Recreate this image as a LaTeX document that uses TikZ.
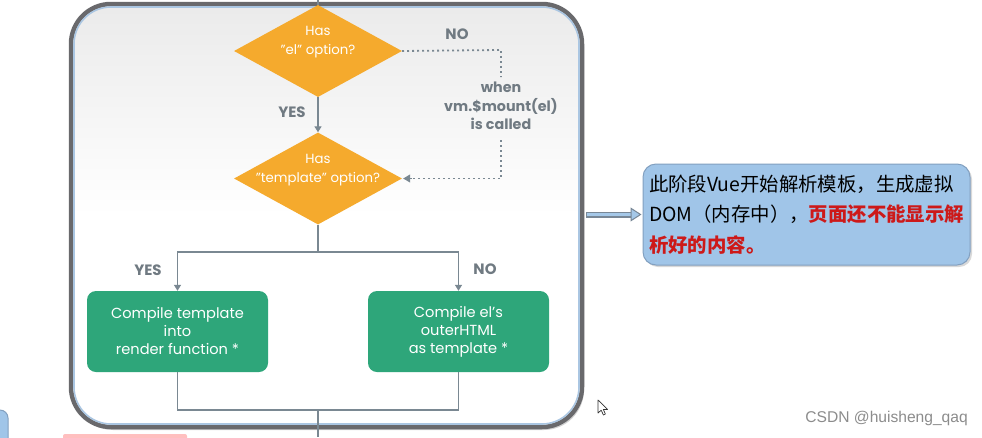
\documentclass[tikz,border=0pt]{standalone}
\usepackage{fontspec}
\setmainfont{Poppins}
\newfontfamily\cjk{Noto Sans CJK SC}
\newfontfamily\wmfont{Liberation Sans}
\usetikzlibrary{shapes.geometric,arrows.meta,shadows}
\definecolor{dorange}{RGB}{245,170,45}
\definecolor{bgreen}{RGB}{46,166,122}
\definecolor{lgray}{RGB}{122,136,146}
\definecolor{tgray}{RGB}{112,122,130}
\definecolor{framegray}{RGB}{105,105,108}
\definecolor{frameblue}{RGB}{170,198,226}
\definecolor{noteblue}{RGB}{160,197,232}
\definecolor{noteedge}{RGB}{130,160,192}
\definecolor{arrowblue}{RGB}{165,200,232}
\definecolor{arrowgray}{RGB}{120,135,150}
\definecolor{notered}{RGB}{205,25,25}
\tikzset{
  decision/.style={diamond, fill=dorange, minimum width=168pt, minimum height=92pt, inner sep=0pt},
  dtext/.style={text=white, font=\fontsize{13.3}{19}\selectfont, align=center, inner sep=0pt},
  stepbox/.style={rectangle, rounded corners=9pt, fill=bgreen, text=white, minimum width=181pt, minimum height=81pt, align=center, font=\fontsize{14.6}{18}\selectfont, inner sep=0pt},
  conn/.style={draw=lgray, line width=1.3pt},
  tip/.style={-{Triangle[length=6pt,width=7pt]}},
  dots/.style={draw=lgray, line width=1.8pt, dash pattern=on 1.8pt off 3.2pt},
  yn/.style={text=tgray, font=\bfseries\fontsize{15}{17}\selectfont, inner sep=0pt},
}
\begin{document}
\begin{tikzpicture}[x=1pt,y=-1pt]
\useasboundingbox (0,0) rectangle (982,437);
\fill[white] (0,0) rectangle (982,437);
% fragments at the bottom left
\draw[fill=noteblue, draw=noteedge, line width=1pt, rounded corners=8pt] (-40,410) rectangle (8,470);
\fill[red!25, rounded corners=2pt] (63,434) rectangle (187,445);
% frame
\node[rectangle, rounded corners=40pt, minimum width=511pt, minimum height=423pt, inner sep=0pt,
      draw=framegray, line width=4.5pt, top color=black!8, bottom color=white, middle color=white,
      drop shadow={shadow xshift=2pt, shadow yshift=-3pt, opacity=0.35}] (frame) at (326.5,215.5) {};
\draw[frameblue, line width=1.6pt, rounded corners=37pt] (74,7) rectangle (579,424);
% decisions
\node[decision] (d1) at (318,51) {};
\node[dtext] (d1t) at (318,42.5) {Has\\"el" option?};
\node[decision] (d2) at (318,178.5) {};
\node[dtext] (d2t) at (318,170.5) {Has\\"template" option?};
% boxes
\node[stepbox] (b1) at (177.5,331.5) {Compile template\\into\\render function *};
\node[stepbox] (b2) at (458.5,331.5) {Compile el's\\outerHTML\\as template *};
% coordinates
\coordinate (top) at (318,0);
\coordinate (dA) at (501,50);
\coordinate (dB) at (501,77);
\coordinate (dC) at (501,140);
\coordinate (dD) at (501,178.5);
\coordinate (split) at (318,252);
\coordinate (merge) at (318,410);
\coordinate (bottom) at (318,437);
% connectors
\draw[conn] (top) -- (d1.north);
\draw[conn,tip] (d1.south) -- (d2.north);
\draw[dots] (d1.east) -- (dA) -- (dB);
\draw[dots] (dC) -- (dD) -- ([xshift=9pt]d2.east);
\draw[lgray, line width=1pt, -{Triangle[length=7pt,width=8pt]}] ([xshift=9.5pt]d2.east) -- ([xshift=1pt]d2.east);
\draw[conn] (d2.south) -- (split);
\draw[conn,tip] (split) -| (b1.north);
\draw[conn,tip] (split) -| (b2.north);
\draw[conn] (b1.south) -- (b1.south |- merge) -- (b2.south |- merge) -- (b2.south);
\draw[conn] (merge) -- (bottom);
% labels
\node[yn] (yes1) at (292,112) {YES};
\node[yn] (no1) at (457,34) {NO};
\node[yn] (yes2) at (148,270) {YES};
\node[yn] (no2) at (485,269) {NO};
\node[text=tgray, font=\bfseries\fontsize{14.3}{18.5}\selectfont, align=center, inner sep=0pt] (when) at (501,106) {when\\vm.\$mount(el)\\is called};
% note
\node[rectangle, rounded corners=13pt, fill=noteblue, draw=noteedge, line width=1pt,
      minimum width=327pt, minimum height=101pt, text width=315pt, inner xsep=6pt, align=left,
      font=\cjk\fontsize{19.4}{30.5}\selectfont,
      drop shadow={shadow xshift=2pt, shadow yshift=-2pt, opacity=0.3}] (note) at (806.5,214.5)
  {\raisebox{-2pt}{此阶段Vue开始解析模板，生成虚拟}\\\raisebox{-2pt}{DOM（内存中），{\color{notered}\bfseries 页面还不能显示解}}\\\raisebox{-2pt}{\color{notered}\bfseries 析好的内容。}};
% callout arrow
\coordinate (aS) at (frame.east |- note.west);
\draw[arrowgray, line width=6pt, shorten >=9pt] ([xshift=2pt]aS) -- (note.west);
\draw[arrowblue, line width=3.6pt, shorten >=9pt] ([xshift=3pt]aS) -- (note.west);
\draw[arrowgray, line width=1pt, -{Triangle[length=11pt,width=14pt,fill=arrowblue]}] ([xshift=-10pt]note.west) -- ([xshift=-1pt]note.west);
% cursor
\filldraw[fill=white, draw=black!80, line width=0.7pt, line join=round] (598,400) -- (598,413) -- (601.2,410.2) -- (603.4,415) -- (605.4,414) -- (603.3,409.4) -- (607.5,409.4) -- cycle;
% watermark
\node[text=black!45, font=\wmfont\fontsize{15.6}{17}\selectfont, inner sep=0pt, anchor=east] (wm) at (968,418) {CSDN @huisheng\_qaq};
\end{tikzpicture}
\end{document}
